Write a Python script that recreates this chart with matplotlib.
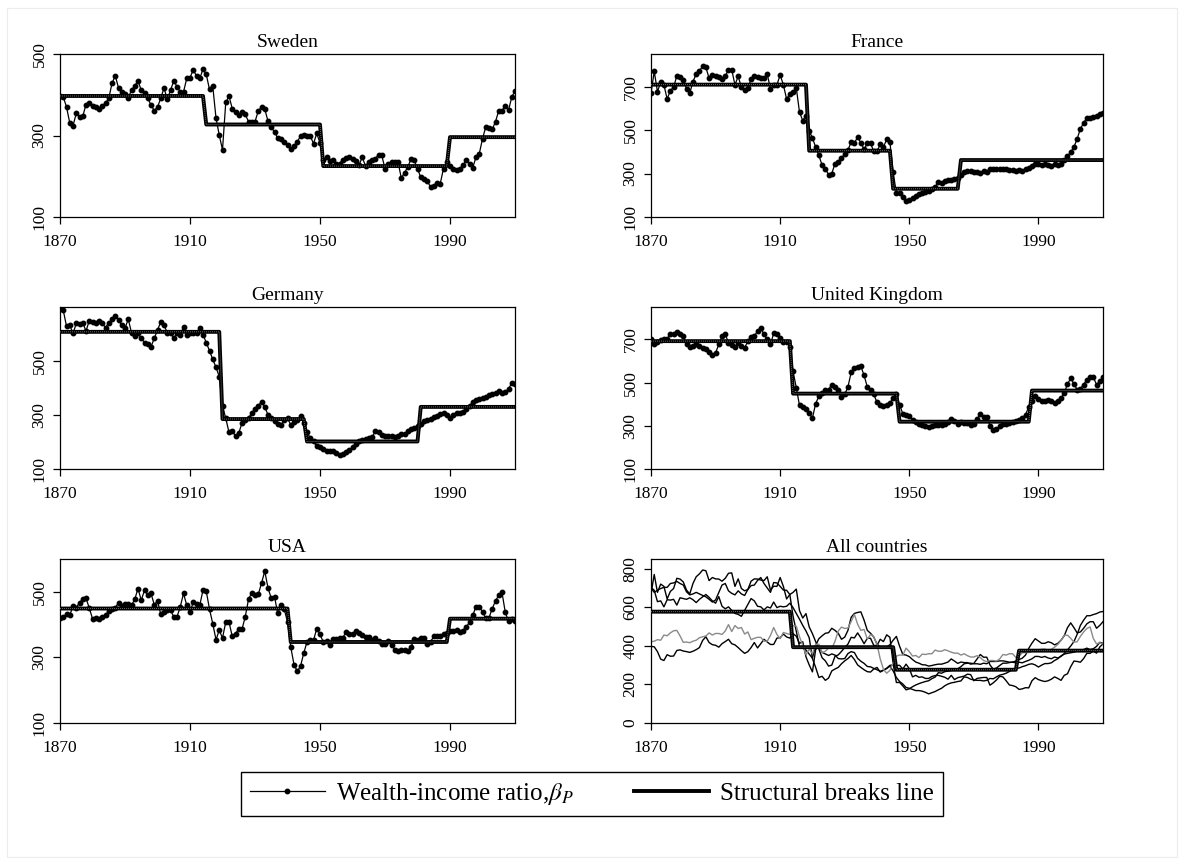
import matplotlib.pyplot as plt
import numpy as np
from matplotlib.lines import Line2D
from matplotlib.patches import Rectangle

plt.rcParams['font.family'] = ['Liberation Serif', 'DejaVu Serif']
plt.rcParams['mathtext.fontset'] = 'stix'

years = np.arange(1870, 2011)
x_ticks = [1870, 1910, 1950, 1990]

# wealth-income ratio (%), 1870-2010
sweden = [397, 395, 370, 331, 324, 354, 346, 347, 376, 379,
          373, 370, 366, 372, 380, 391, 428, 447, 417, 406,
          403, 393, 411, 422, 434, 411, 405, 391, 375, 361,
          370, 391, 417, 389, 411, 434, 420, 407, 407, 440,
          442, 461, 446, 440, 463, 450, 413, 421, 343, 301,
          265, 381, 397, 366, 358, 350, 358, 352, 334, 332,
          334, 360, 370, 365, 335, 320, 309, 293, 291, 283,
          276, 268, 274, 284, 299, 301, 298, 299, 280, 305,
          282, 239, 247, 237, 239, 231, 231, 241, 246, 247,
          242, 237, 227, 247, 225, 235, 239, 243, 253, 251,
          219, 231, 234, 236, 236, 196, 208, 223, 242, 239,
          219, 197, 194, 188, 174, 177, 183, 182, 219, 235,
          225, 219, 215, 219, 227, 239, 231, 221, 247, 255,
          292, 321, 319, 315, 334, 361, 361, 373, 362, 394, 410]

france = [669, 770, 677, 720, 708, 643, 682, 697, 750, 746,
          731, 689, 669, 723, 758, 773, 793, 789, 738, 754,
          747, 746, 735, 750, 776, 778, 708, 747, 697, 685,
          692, 735, 747, 746, 741, 738, 758, 689, 709, 708,
          754, 708, 643, 666, 677, 694, 582, 544, 567, 498,
          463, 422, 383, 338, 322, 295, 300, 346, 353, 371,
          391, 409, 444, 441, 467, 441, 411, 439, 439, 402,
          402, 434, 422, 457, 444, 307, 210, 210, 192, 172,
          177, 188, 197, 204, 210, 215, 219, 230, 238, 261,
          258, 266, 269, 272, 276, 281, 292, 307, 310, 310,
          307, 307, 304, 310, 307, 319, 319, 319, 322, 322,
          319, 315, 315, 312, 315, 312, 319, 325, 333, 345,
          345, 340, 345, 337, 333, 342, 337, 345, 360, 379,
          399, 422, 460, 506, 533, 556, 556, 562, 567, 575, 578]

germany = [703, 688, 629, 633, 602, 639, 637, 641, 611, 649,
           645, 641, 649, 639, 624, 641, 654, 666, 651, 633,
           621, 655, 605, 592, 602, 584, 568, 563, 553, 584,
           614, 645, 633, 605, 602, 586, 602, 596, 627, 598,
           605, 602, 605, 621, 598, 568, 538, 506, 477, 442,
           334, 288, 236, 242, 221, 233, 270, 280, 288, 307,
           322, 334, 350, 329, 301, 288, 276, 266, 264, 280,
           288, 264, 273, 282, 295, 270, 236, 215, 202, 184,
           180, 174, 168, 168, 165, 159, 151, 157, 163, 172,
           180, 193, 202, 208, 211, 215, 218, 239, 236, 227,
           223, 221, 221, 218, 221, 231, 229, 239, 248, 252,
           258, 267, 276, 282, 285, 292, 297, 304, 307, 301,
           290, 300, 308, 308, 312, 324, 333, 348, 357, 361,
           364, 367, 373, 376, 381, 388, 381, 385, 397, 418, 413]

uk = [700, 677, 688, 697, 703, 703, 723, 726, 734, 723,
      715, 680, 664, 669, 677, 669, 661, 654, 641, 627,
      638, 677, 715, 723, 685, 672, 664, 685, 669, 661,
      692, 712, 715, 739, 754, 723, 700, 677, 728, 726,
      708, 689, 688, 666, 553, 476, 394, 388, 378, 357,
      336, 403, 437, 452, 465, 468, 491, 480, 465, 434,
      445, 480, 548, 568, 573, 576, 533, 480, 465, 445,
      409, 394, 391, 394, 406, 429, 449, 398, 355, 352,
      344, 329, 316, 310, 302, 301, 295, 298, 302, 305,
      305, 310, 316, 332, 321, 309, 316, 313, 313, 305,
      309, 332, 355, 341, 341, 301, 279, 285, 298, 310,
      310, 313, 316, 321, 329, 336, 352, 387, 414, 437,
      425, 413, 413, 421, 416, 405, 413, 429, 452, 494,
      519, 494, 467, 472, 491, 514, 525, 525, 491, 506, 525]

usa = [421, 424, 432, 429, 456, 452, 467, 478, 480, 451,
       418, 420, 416, 424, 429, 442, 447, 451, 467, 456,
       464, 464, 459, 477, 510, 474, 505, 490, 495, 461,
       472, 432, 439, 444, 444, 424, 424, 454, 495, 459,
       437, 469, 464, 459, 505, 502, 447, 403, 354, 383,
       359, 408, 408, 364, 372, 388, 386, 424, 477, 497,
       490, 492, 526, 563, 512, 480, 485, 434, 459, 447,
       408, 332, 278, 258, 273, 313, 347, 352, 352, 388,
       370, 347, 350, 339, 357, 355, 359, 359, 378, 372,
       372, 380, 374, 367, 362, 362, 352, 359, 349, 342,
       342, 349, 339, 324, 318, 324, 324, 321, 332, 355,
       352, 359, 359, 340, 347, 364, 365, 365, 372, 374,
       379, 382, 383, 376, 382, 393, 407, 428, 455, 455,
       439, 419, 421, 449, 472, 490, 498, 438, 410, 416, 410]

# structural breaks: last year of each regime and the regime means
sweden_ends = [1914, 1950, 1989]
sweden_levels = [397, 327, 225, 296]
france_ends = [1918, 1944, 1965]
france_levels = [709, 405, 230, 362]
germany_ends = [1919, 1945, 1980]
germany_levels = [608, 285, 202, 330]
uk_ends = [1913, 1946, 1987]
uk_levels = [692, 449, 319, 463]
usa_ends = [1940, 1989]
usa_levels = [449, 347, 418]
all_ends = [1913, 1945, 1983]
all_levels = [577, 393, 276, 375]

FIG_W, FIG_H = 1184, 864


def px_rect(left, top, right, bottom):
    return [left / FIG_W, 1 - bottom / FIG_H, (right - left) / FIG_W, (bottom - top) / FIG_H]


def step_line(ends, levels):
    xs = [years[0]]
    ys = [levels[0]]
    for end, cur, nxt in zip(ends, levels[:-1], levels[1:]):
        xs += [end, end + 1]
        ys += [cur, nxt]
    xs.append(years[-1])
    ys.append(levels[-1])
    return xs, ys


def draw_breaks(ax, ends, levels):
    sx, sy = step_line(ends, levels)
    ax.plot(sx, sy, color='black', lw=2.8, zorder=3)
    ax.plot(sx, sy, color='#8c8c8c', lw=0.6, ls=(0, (1, 1.4)), zorder=4)


def finish_axes(ax, title, ylim, yticks):
    ax.set_xlim(1870, 2010)
    ax.set_ylim(*ylim)
    ax.set_xticks(x_ticks)
    ax.set_yticks(yticks)
    ax.set_yticklabels([str(t) for t in yticks], rotation=90, va='center')
    ax.tick_params(direction='out', length=5, width=0.9, labelsize=12.5)
    ax.tick_params(axis='x', pad=7)
    ax.tick_params(axis='y', pad=4)
    for sp in ax.spines.values():
        sp.set_linewidth(0.9)
    ax.set_title(title, fontsize=14, pad=5)


def country_plot(ax, title, values, ends, levels, ylim, yticks):
    ax.plot(years, values, color='black', lw=0.9, marker='o', ms=3.2, zorder=2)
    draw_breaks(ax, ends, levels)
    finish_axes(ax, title, ylim, yticks)


def all_plot(ax):
    for values in [sweden, france, germany, uk]:
        ax.plot(years, values, color='black', lw=1.0, zorder=2)
    ax.plot(years, usa, color='#8a8a8a', lw=1.0, zorder=2)
    draw_breaks(ax, all_ends, all_levels)
    finish_axes(ax, 'All countries', (0, 850), [0, 200, 400, 600, 800])


fig = plt.figure(figsize=(FIG_W / 100, FIG_H / 100), dpi=100)
fig.patches.append(Rectangle((7 / FIG_W, 7 / FIG_H), 1 - 14 / FIG_W, 1 - 15 / FIG_H,
                             transform=fig.transFigure, fill=False, edgecolor='#ececec', lw=0.8))

cols = [(60, 515), (651, 1103)]
rows = [(54, 217), (307, 469), (559, 723)]

ax = fig.add_axes(px_rect(cols[0][0], rows[0][0], cols[0][1], rows[0][1]))
country_plot(ax, 'Sweden', sweden, sweden_ends, sweden_levels, (100, 500), [100, 300, 500])

ax = fig.add_axes(px_rect(cols[1][0], rows[0][0], cols[1][1], rows[0][1]))
country_plot(ax, 'France', france, france_ends, france_levels, (100, 850), [100, 300, 500, 700])

ax = fig.add_axes(px_rect(cols[0][0], rows[1][0], cols[0][1], rows[1][1]))
country_plot(ax, 'Germany', germany, germany_ends, germany_levels, (100, 700), [100, 300, 500])

ax = fig.add_axes(px_rect(cols[1][0], rows[1][0], cols[1][1], rows[1][1]))
country_plot(ax, 'United Kingdom', uk, uk_ends, uk_levels, (100, 850), [100, 300, 500, 700])

ax = fig.add_axes(px_rect(cols[0][0], rows[2][0], cols[0][1], rows[2][1]))
country_plot(ax, 'USA', usa, usa_ends, usa_levels, (100, 600), [100, 300, 500])

ax = fig.add_axes(px_rect(cols[1][0], rows[2][0], cols[1][1], rows[2][1]))
all_plot(ax)

handles = [Line2D([], [], color='black', lw=0.9, marker='o', ms=3.2),
           Line2D([], [], color='black', lw=2.8)]
labels = ['Wealth-income ratio,$\\beta_P$', 'Structural breaks line']
leg = fig.legend(handles, labels, loc='center', bbox_to_anchor=(0.5, 1 - 794 / FIG_H),
                 ncol=2, numpoints=1, fontsize=18, frameon=True, fancybox=False,
                 edgecolor='black', framealpha=1, handlelength=3.0, handletextpad=0.45,
                 columnspacing=2.4, borderpad=0.35)
leg.get_frame().set_linewidth(1.0)

fig.savefig('out.png', dpi=100)
